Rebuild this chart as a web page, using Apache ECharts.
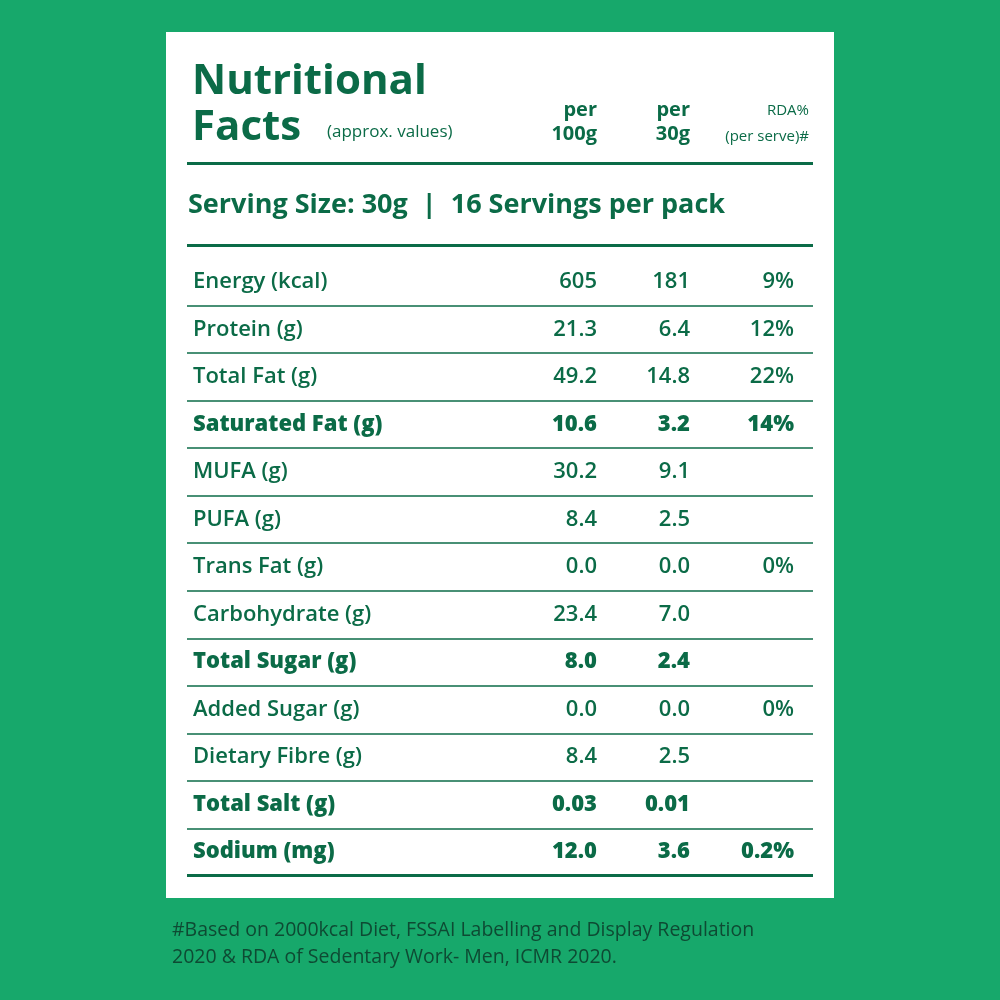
<!DOCTYPE html>
<html><head><meta charset="utf-8">
<script src="https://cdn.jsdelivr.net/npm/echarts@6/dist/echarts.min.js"></script>
<style>html,body{margin:0;padding:0;background:#17a86b}#c{width:1000px;height:1000px}</style>
</head><body><div id="c"></div>
<script>
const nutrients = ['Energy (kcal)','Protein (g)','Total Fat (g)','Saturated Fat (g)','MUFA (g)','PUFA (g)','Trans Fat (g)','Carbohydrate (g)','Total Sugar (g)','Added Sugar (g)','Dietary Fibre (g)','Total Salt (g)','Sodium (mg)'];
const per100g = ['605','21.3','49.2','10.6','30.2','8.4','0.0','23.4','8.0','0.0','8.4','0.03','12.0'];
const per30g = ['181','6.4','14.8','3.2','9.1','2.5','0.0','7.0','2.4','0.0','2.5','0.01','3.6'];
const rda = ['9%','12%','22%','14%','','','0%','','','0%','','','0.2%'];
const boldRows = ['Saturated Fat (g)','Total Sugar (g)','Total Salt (g)','Sodium (mg)'];
const colX = [6, 410, 503, 607];

const G = '#0b6b47', FONT = 'Open Sans';
function ser(vals, x, align){
  return {type:'scatter', symbolSize:0, silent:true,
    itemStyle:{color:G, opacity:1},
    data: vals.map((v,i)=>({value:[x, nutrients[i]], txt:v,
      label: boldRows.includes(nutrients[i]) ? {fontWeight:800} : {}})),
    label:{show:true, position:'inside', align:align, verticalAlign:'middle',
      formatter:p=>p.data.txt, color:G, textBorderWidth:0, opacity:1,
      fontFamily:FONT, fontSize:22, fontWeight:600}};
}
const series = [ser(nutrients, colX[0], 'left'), ser(per100g, colX[1], 'right'),
  ser(per30g, colX[2], 'right'), ser(rda, colX[3], 'right')];

const chart = echarts.init(document.getElementById('c'));
const T = (x,y,t,size,w,align,color)=>({type:'text',x:x,y:y,style:{text:t,fill:color||G,font:`${w} ${size}px "${FONT}"`,textAlign:align||'left',textVerticalAlign:'middle'}});
chart.setOption({
  backgroundColor:'#17a86b',
  animation:false,
  grid:{left:187,right:187,top:258,bottom:124},
  xAxis:{type:'value',min:0,max:626,show:false},
  yAxis:{type:'category',data:nutrients,inverse:true,
    axisLine:{show:false},axisTick:{show:false},axisLabel:{show:false},
    splitLine:{show:true,interval:(i)=>i>0,lineStyle:{color:G,width:1.5}}},
  graphic:[
    {type:'rect',z:-1,shape:{x:166,y:32,width:668,height:866},style:{fill:'#ffffff'}},
    T(192,82,'Nutritional',42,700),
    T(192,128,'Facts',42,700),
    T(327,132,'(approx. values)',17,400),
    T(597,110,'per',20,700,'right'),
    T(597,134,'100g',20,700,'right'),
    T(690,110,'per',20,700,'right'),
    T(690,134,'30g',20,700,'right'),
    T(809,111,'RDA%',15,400,'right'),
    T(809,137,'(per serve)#',15,400,'right'),
    {type:'rect',shape:{x:187,y:162,width:626,height:3},style:{fill:G}},
    T(188,205,'Serving Size: 30g  |  16 Servings per pack',27,700),
    {type:'rect',shape:{x:187,y:244,width:626,height:3},style:{fill:G}},
    {type:'rect',shape:{x:187,y:874,width:626,height:3},style:{fill:G}},
    T(172,930,'#Based on 2000kcal Diet, FSSAI Labelling and Display Regulation',19.5,500,'left','#0e4a33'),
    T(172,957,'2020 & RDA of Sedentary Work- Men, ICMR 2020.',19.5,500,'left','#0e4a33')
  ],
  series:series
});
</script></body></html>
